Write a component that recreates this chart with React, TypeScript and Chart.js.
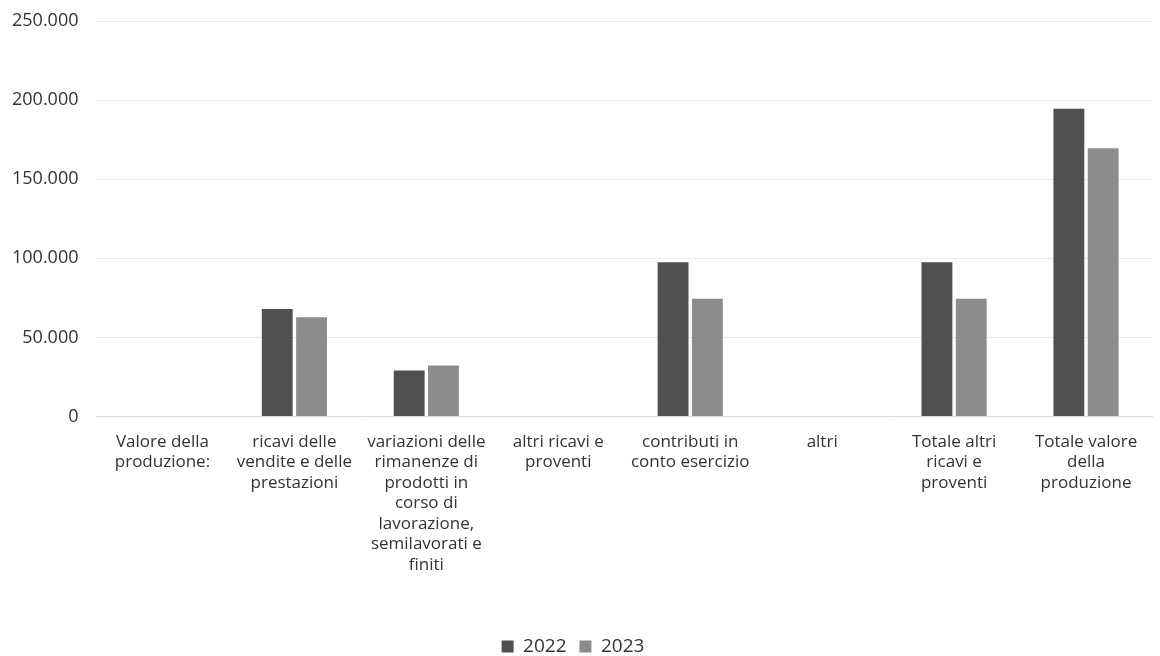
import React, { useEffect, useRef } from "react";
import { Chart, registerables } from "chart.js";

Chart.register(...registerables);

const categories: string[][] = [
  ["Valore della", "produzione:"],
  ["ricavi delle", "vendite e delle", "prestazioni"],
  ["variazioni delle", "rimanenze di", "prodotti in", "corso di", "lavorazione,", "semilavorati e", "finiti"],
  ["altri ricavi e", "proventi"],
  ["contributi in", "conto esercizio"],
  ["altri"],
  ["Totale altri", "ricavi e", "proventi"],
  ["Totale valore", "della", "produzione"],
];

const series2022: number[] = [0, 68000, 29000, 0, 97500, 0, 97500, 194500];
const series2023: number[] = [0, 62800, 32300, 0, 74500, 0, 74500, 169600];

const yTicks: number[] = [0, 50000, 100000, 150000, 200000, 250000];

const fmt = (v: number) => String(v).replace(/\B(?=(\d{3})+(?!\d))/g, ".");

export default function App() {
  const ref = useRef<HTMLCanvasElement | null>(null);

  useEffect(() => {
    document.body.style.margin = "0";
    if (!ref.current) return;
    const chart = new Chart(ref.current, {
      type: "bar",
      data: {
        labels: categories,
        datasets: [
          {
            label: "2022",
            data: series2022,
            backgroundColor: "#505050",
            barPercentage: 0.9,
            categoryPercentage: 0.52,
          },
          {
            label: "2023",
            data: series2023,
            backgroundColor: "#8c8c8c",
            barPercentage: 0.9,
            categoryPercentage: 0.52,
          },
        ],
      },
      options: {
        animation: false,
        responsive: false,
        maintainAspectRatio: false,
        layout: { padding: { left: -6, right: 8, top: 0, bottom: -10 } },
        font: { family: "Open Sans" },
        plugins: {
          tooltip: { enabled: false },
          legend: {
            position: "bottom",
            labels: {
              color: "#333333",
              font: { family: "Open Sans", size: 19 },
              boxWidth: 12,
              boxHeight: 12,
              padding: 3,
              generateLabels: (ch: any) => {
                const items = Chart.defaults.plugins.legend.labels.generateLabels(ch);
                return items.map((it: any, i: number) =>
                  i < items.length - 1 ? { ...it, text: it.text + "  " } : it
                );
              },
            },
          },
        },
        scales: {
          x: {
            grid: { display: false },
            border: { display: true, color: "#d9d9d9" },
            afterFit: (scale: any) => {
              scale.height += 52;
            },
            ticks: {
              color: "#333333",
              font: { family: "Open Sans", size: 17, lineHeight: "20.5px" },
              maxRotation: 0,
              autoSkip: false,
              padding: 7,
            },
          },
          y: {
            min: 0,
            max: 250000,
            afterBuildTicks: (axis: any) => {
              axis.ticks = yTicks.map((v) => ({ value: v }));
            },
            afterFit: (scale: any) => {
              scale.paddingTop = 21;
            },
            grid: { color: "#e8e8e8", drawTicks: false },
            border: { display: false },
            ticks: {
              color: "#333333",
              font: { family: "Open Sans", size: 18 },
              padding: 18,
              callback: (v: any) => fmt(Number(v)),
            },
          },
        },
      },
    });
    return () => chart.destroy();
  }, []);

  return (
    <div style={{ position: "fixed", left: 0, top: 0, width: 1160, height: 656 }}>
      <canvas ref={ref} width={1160} height={656} style={{ width: 1160, height: 656 }} />
    </div>
  );
}
